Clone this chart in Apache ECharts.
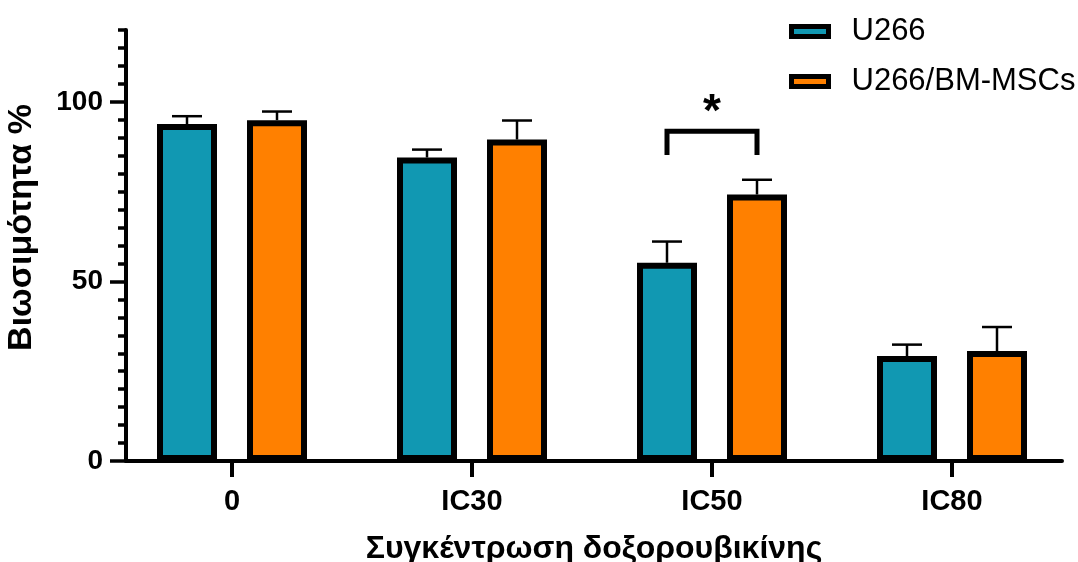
<!DOCTYPE html>
<html>
<head>
<meta charset="utf-8">
<script src="https://cdn.jsdelivr.net/npm/echarts@6/dist/echarts.min.js"></script>
<style>
  html, body { margin: 0; padding: 0; background: #fff; }
  #chart { width: 1078px; height: 562px; }
</style>
</head>
<body>
<div id="chart"></div>
<script>
// Viability (%) of U266 cells alone and co-cultured with BM-MSCs, per doxorubicin dose
const categories = ['0', 'IC30', 'IC50', 'IC80'];
const seriesNames = ['U266', 'U266/BM-MSCs'];
const u266Mean = [93.8, 84.5, 55.2, 29.2];
const u266Sd = [2.2, 2.2, 5.9, 3.2];
const coMean = [94.9, 89.5, 74.2, 30.6];
const coSd = [2.4, 5.3, 4.1, 6.7];
const yTickLabels = [0, 50, 100];
// significance bracket: [category index, bracket level, leg end level, mark]
const significance = [[2, 91.8, 85.2, '*']];

const FONT = '"Liberation Sans", Arial, Helvetica, sans-serif';
const TEAL = '#1198b2';
const ORANGE = '#ff8000';
const BAR_W = 60;
const BAR_GAP_PX = 30;
const HALF_STEP = (BAR_W + BAR_GAP_PX) / 2;

function errorSeries(means, sds, side) {
  return {
    type: 'custom',
    xAxisIndex: 0,
    yAxisIndex: 0,
    z: 3,
    silent: true,
    data: means.map((m, i) => [i, m, m + sds[i]]),
    renderItem: function (params, api) {
      const base = api.coord([api.value(0), api.value(1)]);
      const top = api.coord([api.value(0), api.value(2)]);
      const x = base[0] + side * HALF_STEP;
      const capHalf = 15;
      return {
        type: 'group',
        children: [
          { type: 'line', shape: { x1: x, y1: base[1], x2: x, y2: top[1] },
            style: { stroke: '#000', lineWidth: 2.5 } },
          { type: 'line', shape: { x1: x - capHalf, y1: top[1], x2: x + capHalf, y2: top[1] },
            style: { stroke: '#000', lineWidth: 2.5 } }
        ]
      };
    }
  };
}

const chart = echarts.init(document.getElementById('chart'), null, { renderer: 'canvas' });

chart.setOption({
  animation: false,
  backgroundColor: '#ffffff',
  legend: {
    data: seriesNames,
    orient: 'vertical',
    left: 784,
    top: 11,
    itemWidth: 37,
    itemHeight: 10,
    itemGap: 19,
    icon: 'rect',
    itemStyle: { borderColor: '#000', borderWidth: 5 },
    textStyle: { fontFamily: FONT, fontSize: 31, color: '#000', lineHeight: 30, padding: [0, 0, 0, 18] },
    selectedMode: false
  },
  grid: [
    { left: 112, right: 6, top: 30, bottom: 101, containLabel: false, outerBoundsMode: 'none' },
    { left: 126, right: 16, top: 30, bottom: 101, containLabel: false, outerBoundsMode: 'none' }
  ],
  xAxis: [
    {
      type: 'category',
      gridIndex: 0,
      data: categories,
      boundaryGap: true,
      axisLine: { show: false },
      axisTick: { show: true, alignWithLabel: true, length: 16, lineStyle: { color: '#000', width: 4 } },
      axisLabel: { margin: 26, fontFamily: FONT, fontSize: 29, fontWeight: 'bold', color: '#000' },
      splitLine: { show: false }
    },
    {
      type: 'value',
      gridIndex: 1,
      min: 0,
      max: 1,
      axisLine: { show: true, onZero: false, lineStyle: { color: '#000', width: 4 } },
      axisTick: { show: false },
      axisLabel: { show: false },
      splitLine: { show: false },
      name: 'Συγκέντρωση δοξορουβικίνης',
      nameLocation: 'middle',
      nameGap: 72,
      nameTextStyle: { fontFamily: FONT, fontSize: 32, fontWeight: 'bold', color: '#000' }
    }
  ],
  yAxis: [
    {
      type: 'value',
      gridIndex: 0,
      position: 'left',
      min: 0,
      max: 120,
      interval: 5,
      offset: -14,
      axisLine: { show: true, lineStyle: { color: '#000', width: 4 } },
      axisTick: { show: true, length: 8, lineStyle: { color: '#000', width: 3.5 } },
      axisLabel: { show: false },
      splitLine: { show: false },
      name: 'Βιωσιμότητα %',
      nameLocation: 'middle',
      nameGap: 87,
      nameTextStyle: { fontFamily: FONT, fontSize: 34, fontWeight: 'bold', color: '#000', padding: [0, 0, 0, 36] }
    },
    {
      type: 'value',
      gridIndex: 0,
      position: 'left',
      min: 0,
      max: 120,
      interval: 5,
      offset: -14,
      axisLine: { show: false },
      axisTick: { show: true, length: 16, customValues: yTickLabels, lineStyle: { color: '#000', width: 3.5 } },
      axisLabel: { show: true, customValues: yTickLabels, margin: 23, fontFamily: FONT, fontSize: 28, fontWeight: 'bold', color: '#000' },
      splitLine: { show: false }
    },
    {
      type: 'value',
      gridIndex: 1,
      min: 0,
      max: 1,
      show: false
    }
  ],
  series: [
    {
      name: seriesNames[0],
      type: 'bar',
      xAxisIndex: 0,
      yAxisIndex: 0,
      data: u266Mean,
      barWidth: BAR_W,
      barGap: (BAR_GAP_PX / BAR_W * 100) + '%',
      itemStyle: { color: TEAL, borderColor: '#000', borderWidth: 6 },
      z: 2
    },
    {
      name: seriesNames[1],
      type: 'bar',
      xAxisIndex: 0,
      yAxisIndex: 0,
      data: coMean,
      barWidth: BAR_W,
      barGap: (BAR_GAP_PX / BAR_W * 100) + '%',
      itemStyle: { color: ORANGE, borderColor: '#000', borderWidth: 6 },
      z: 2
    },
    errorSeries(u266Mean, u266Sd, -1),
    errorSeries(coMean, coSd, 1),
    {
      type: 'custom',
      xAxisIndex: 0,
      yAxisIndex: 0,
      z: 4,
      silent: true,
      data: significance,
      renderItem: function (params, api) {
        const top = api.coord([api.value(0), api.value(1)]);
        const leg = api.coord([api.value(0), api.value(2)]);
        const x1 = top[0] - HALF_STEP;
        const x2 = top[0] + HALF_STEP;
        const mark = significance[params.dataIndex][3];
        return {
          type: 'group',
          children: [
            { type: 'polyline',
              shape: { points: [[x1, leg[1]], [x1, top[1]], [x2, top[1]], [x2, leg[1]]] },
              style: { stroke: '#000', lineWidth: 5, fill: null, lineJoin: 'miter' } },
            { type: 'text',
              style: { text: mark, x: top[0], y: top[1] + 5, align: 'center', verticalAlign: 'bottom',
                       font: 'bold 46px ' + FONT, fill: '#000' } }
          ]
        };
      }
    }
  ]
});
</script>
</body>
</html>
